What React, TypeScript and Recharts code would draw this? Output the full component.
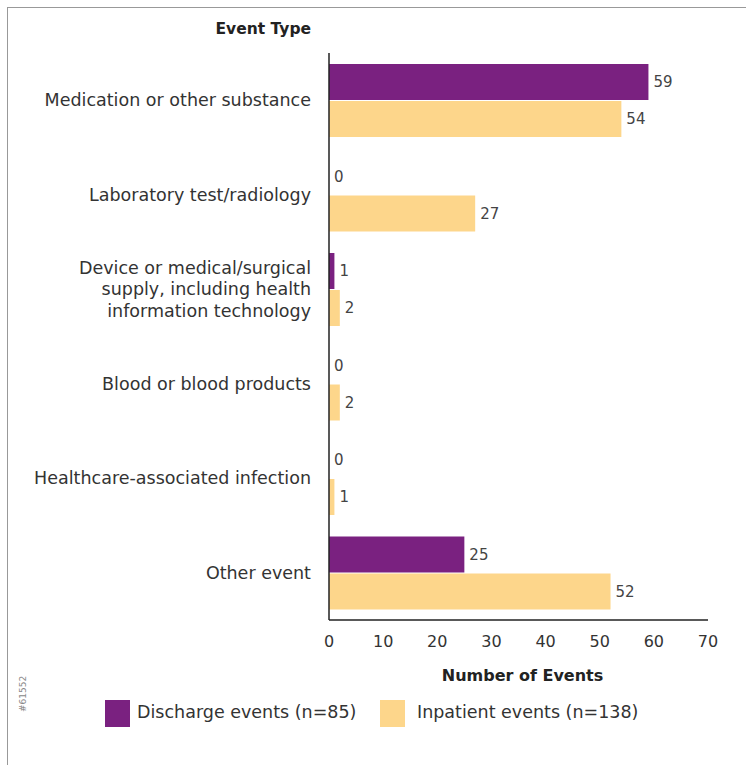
import React from "react";
import { BarChart, Bar, XAxis, YAxis, LabelList } from "recharts";

const categories = [
  "Medication or other substance",
  "Laboratory test/radiology",
  "Device or medical/surgical|supply, including health|information technology",
  "Blood or blood products",
  "Healthcare-associated infection",
  "Other event",
];
const dischargeValues = [59, 0, 1, 0, 0, 25];
const inpatientValues = [54, 27, 2, 2, 1, 52];
const xTicks = [0, 10, 20, 30, 40, 50, 60, 70];
const seriesNames = ["Discharge events (n=85)", "Inpatient events (n=138)"];

const PURPLE = "#7a2180";
const YELLOW = "#fdd68b";
const TEXT = "#333333";
const FONT = "'DejaVu Sans', Verdana, sans-serif";

const data = categories.map((c, i) => ({
  category: c,
  discharge: dischargeValues[i],
  inpatient: inpatientValues[i],
}));

const CategoryTick = (props: any) => {
  const { x, y, payload } = props;
  const lines: string[] = String(payload.value).split("|");
  const lh = 21.5;
  const start = -((lines.length - 1) * lh) / 2;
  return (
    <text x={x} y={y} textAnchor="end" fill={TEXT} fontSize={17.5} fontFamily={FONT}>
      {lines.map((l, i) => (
        <tspan key={i} x={x} dy={i === 0 ? start + 6 : lh}>
          {l}
        </tspan>
      ))}
    </text>
  );
};

export default function App() {
  return (
    <div
      style={{
        position: "absolute",
        left: 0,
        top: 0,
        width: 746,
        height: 765,
        background: "#fff",
        fontFamily: FONT,
      }}
    >
      <div
        style={{
          position: "absolute",
          left: 7,
          top: 7,
          width: 739,
          height: 758,
          borderTop: "1.5px solid #999",
          borderLeft: "1.5px solid #999",
        }}
      />
      <div
        style={{
          position: "absolute",
          left: 150,
          width: 161,
          top: 20,
          textAlign: "right",
          fontWeight: "bold",
          fontSize: 15.5,
          color: "#222",
        }}
      >
        Event Type
      </div>
      <div style={{ position: "absolute", left: 0, top: 0 }}>
        <BarChart
          layout="vertical"
          width={746}
          height={765}
          data={data}
          margin={{ top: 53, right: 38, bottom: 80, left: 0 }}
          barCategoryGap={11}
          barGap={1}
        >
          <XAxis
            type="number"
            domain={[0, 70]}
            ticks={xTicks}
            tickLine={false}
            axisLine={{ stroke: "#222", strokeWidth: 1.5 }}
            tick={{ fill: TEXT, fontSize: 16, fontFamily: FONT }}
            tickMargin={10}
            height={65}
            interval={0}
            label={{
              value: "Number of Events",
              position: "insideBottom",
              offset: 4,
              fill: "#222",
              fontSize: 16,
              fontWeight: "bold",
              fontFamily: FONT,
              dx: 4,
            }}
          />
          <YAxis
            type="category"
            dataKey="category"
            width={329}
            tickLine={false}
            axisLine={{ stroke: "#222", strokeWidth: 1.5 }}
            tick={<CategoryTick />}
            tickMargin={12}
            interval={0}
          />
          <Bar dataKey="discharge" fill={PURPLE} minPointSize={0.01} isAnimationActive={false}>
            <LabelList
              dataKey="discharge"
              position="right"
              offset={5}
              fill="#444"
              fontSize={15}
              fontFamily={FONT}
            />
          </Bar>
          <Bar dataKey="inpatient" fill={YELLOW} minPointSize={0.01} isAnimationActive={false}>
            <LabelList
              dataKey="inpatient"
              position="right"
              offset={5}
              fill="#444"
              fontSize={15}
              fontFamily={FONT}
            />
          </Bar>
        </BarChart>
      </div>
      <div
        style={{
          position: "absolute",
          left: 18,
          top: 712,
          transform: "rotate(-90deg)",
          transformOrigin: "left top",
          fontSize: 9,
          color: "#888",
        }}
      >
        #61552
      </div>
      <div style={{ position: "absolute", top: 700, left: 105, width: 25, height: 27, background: PURPLE }} />
      <div style={{ position: "absolute", top: 702, left: 137, fontSize: 17.5, color: TEXT, whiteSpace: "nowrap" }}>
        {seriesNames[0]}
      </div>
      <div style={{ position: "absolute", top: 700, left: 380, width: 25, height: 27, background: YELLOW }} />
      <div style={{ position: "absolute", top: 702, left: 417, fontSize: 17.5, color: TEXT, whiteSpace: "nowrap" }}>
        {seriesNames[1]}
      </div>
    </div>
  );
}
